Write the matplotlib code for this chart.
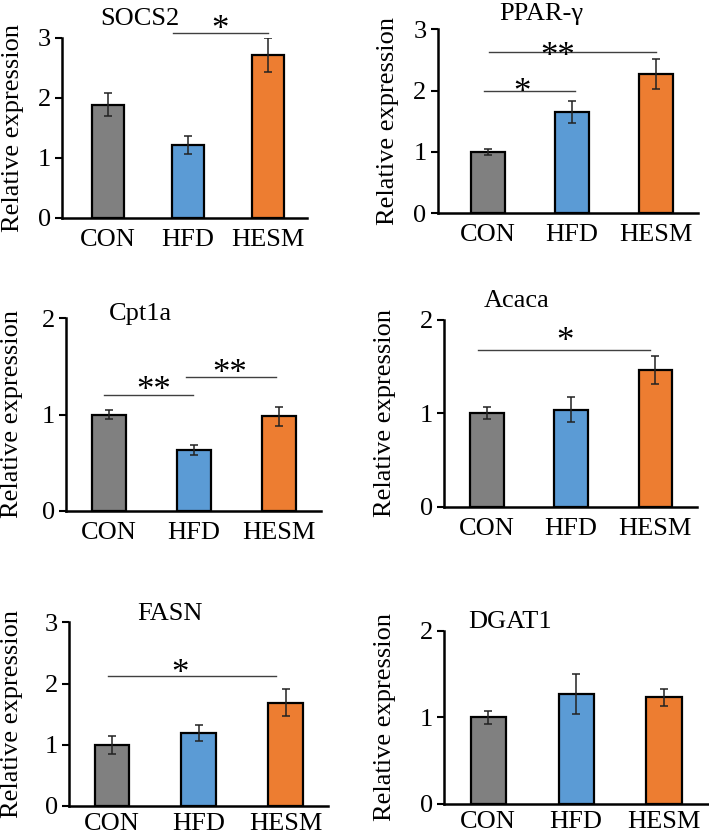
import matplotlib
matplotlib.use("Agg")
import matplotlib.pyplot as plt

W, H = 709, 835
plt.rcParams['font.family'] = ['Liberation Serif', 'DejaVu Serif']

groups = ["CON", "HFD", "HESM"]
colors = ["#808080", "#5B9BD5", "#ED7D31"]

genes = ["SOCS2", "PPAR-γ", "Cpt1a", "Acaca", "FASN", "DGAT1"]
socs2_mean = [1.89, 1.21, 2.72]
socs2_err = [0.19, 0.15, 0.28]
ppar_mean = [1.00, 1.65, 2.27]
ppar_err = [0.05, 0.18, 0.25]
cpt1a_mean = [1.00, 0.63, 0.98]
cpt1a_err = [0.05, 0.055, 0.095]
acaca_mean = [1.00, 1.04, 1.465]
acaca_err = [0.065, 0.13, 0.15]
fasn_mean = [1.00, 1.19, 1.69]
fasn_err = [0.15, 0.13, 0.22]
dgat1_mean = [1.00, 1.27, 1.23]
dgat1_err = [0.075, 0.235, 0.095]
y_max = [3, 3, 2, 2, 3, 2]

# significance: (x1, x2, line_y, star_x, star_y, label)
sig_socs2 = [(0.81, 2.0, 3.08, 1.40, 3.25, "*")]
sig_ppar = [(-0.05, 1.04, 2.0, 0.40, 2.08, "*"), (0.01, 2.0, 2.63, 0.83, 2.67, "**")]
sig_cpt1a = [(-0.06, 0.99, 1.2, 0.52, 1.32, "**"), (0.90, 1.96, 1.39, 1.42, 1.50, "**")]
sig_acaca = [(-0.11, 1.94, 1.68, 0.93, 1.84, "*")]
sig_fasn = [(-0.04, 1.89, 2.12, 0.78, 2.28, "*")]
sig_dgat1 = []

means = [socs2_mean, ppar_mean, cpt1a_mean, acaca_mean, fasn_mean, dgat1_mean]
errs = [socs2_err, ppar_err, cpt1a_err, acaca_err, fasn_err, dgat1_err]
sigs = [sig_socs2, sig_ppar, sig_cpt1a, sig_acaca, sig_fasn, sig_dgat1]

# layout in pixels: (x_left, x_right, y_top, y_bottom, xlim_left, xlim_right, label_x, title_x, title_baseline, xpad)
layout = [
    (62, 307, 38, 218, -0.575, 2.49, 13, 140, 25, 8),
    (437.7, 698, 29.3, 213.3, -0.60, 2.50, 388, 541.7, 20, 8),
    (66, 320.7, 318.3, 510.7, -0.506, 2.49, 12, 140, 320, 8),
    (444.3, 696.7, 320, 506.7, -0.504, 2.49, 385, 516.7, 306.7, 8),
    (69.3, 328.3, 622.3, 806, -0.49, 2.49, 12, 170, 620, 5),
    (444.3, 708, 630.7, 804, -0.50, 2.50, 385, 510, 628.3, 5),
]

fig = plt.figure(figsize=(W / 100, H / 100), dpi=100)
FS = 19
SFS = 25

for i in range(6):
    xl, xr, yt, yb, x0, x1, lx, tx, tby, xpad = layout[i]
    ax = fig.add_axes([xl / W, 1 - yb / H, (xr - xl) / W, (yb - yt) / H])
    xs = list(range(len(groups)))
    ax.bar(xs, means[i], width=0.40, color=colors, edgecolor="black", linewidth=1.6, zorder=2)
    ax.errorbar(xs, means[i], yerr=errs[i], fmt="none", ecolor="#222222",
                elinewidth=1.1, capsize=3, capthick=1.1, zorder=3)
    ax.set_xlim(x0, x1)
    ax.set_ylim(0, y_max[i])
    ax.set_yticks(range(0, y_max[i] + 1))
    ax.set_xticks(xs)
    ax.set_xticklabels(groups)
    ax.tick_params(axis="x", length=0, pad=xpad, labelsize=FS)
    ax.tick_params(axis="y", length=5, width=1.5, pad=3, labelsize=FS)
    for s in ["top", "right"]:
        ax.spines[s].set_visible(False)
    ax.spines["left"].set_linewidth(1.8)
    ax.spines["bottom"].set_linewidth(1.8)
    ax.patch.set_alpha(0)
    for (a, b, ly, sx, sy, lab) in sigs[i]:
        ax.plot([a, b], [ly, ly], color="#404040", linewidth=1.0, clip_on=False, zorder=1)
        ax.annotate(lab, xy=(sx, sy), xytext=(0, -0.47 * SFS), textcoords="offset points",
                    ha="center", va="baseline", fontsize=SFS, annotation_clip=False)
    fig.text(lx / W, 1 - ((yt + yb) / 2) / H, "Relative expression", rotation=90,
             ha="center", va="center", fontsize=FS)
    fig.text(tx / W, 1 - tby / H, genes[i], ha="center", va="baseline", fontsize=FS)

fig.savefig("out.png", dpi=100)
